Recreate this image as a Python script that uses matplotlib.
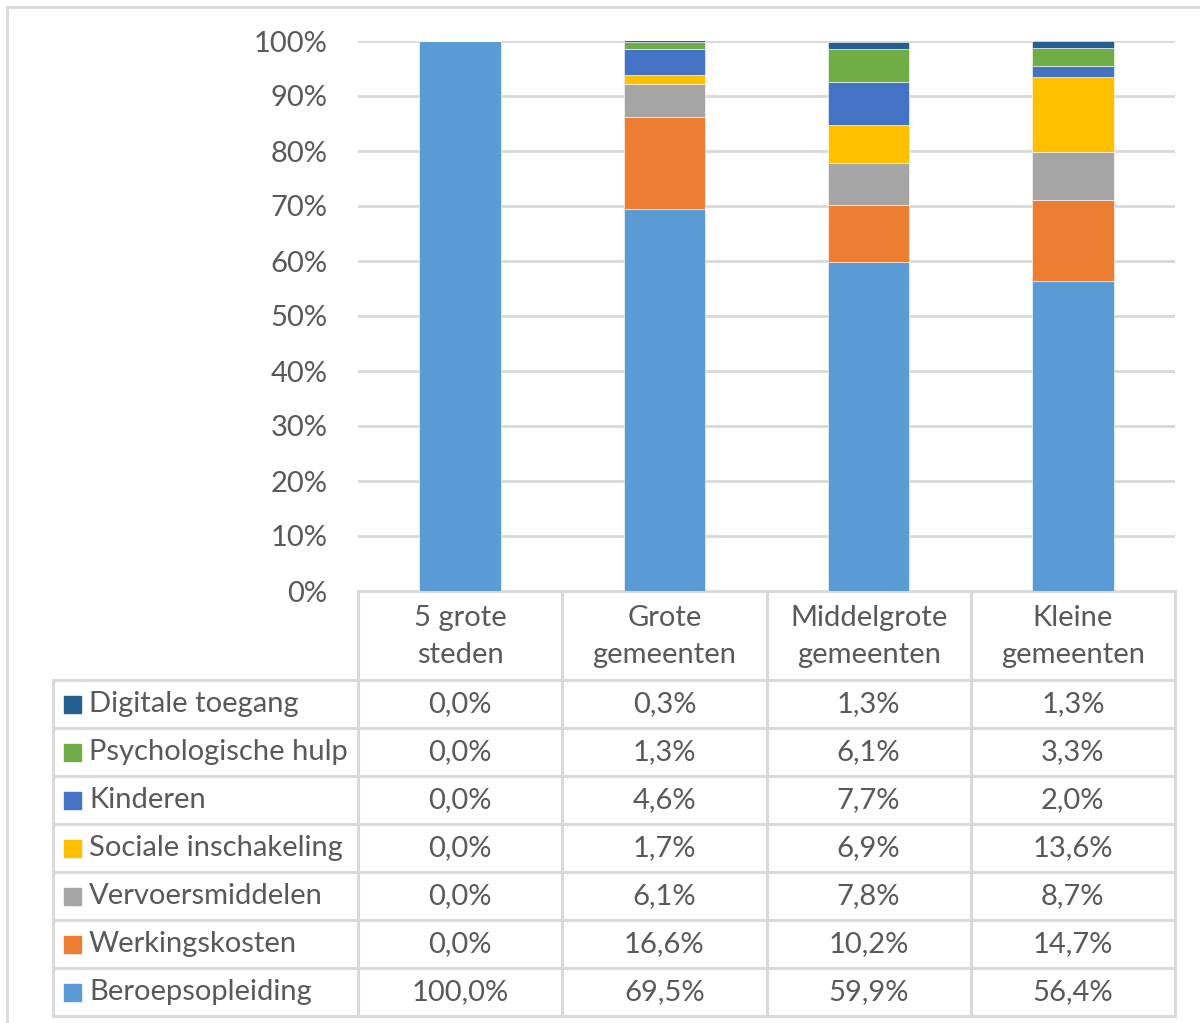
import numpy as np
import matplotlib.pyplot as plt

plt.rcParams['font.family'] = ['Lato', 'DejaVu Sans']

categories = ["5 grote\nsteden", "Grote\ngemeenten", "Middelgrote\ngemeenten", "Kleine\ngemeenten"]
series = ["Beroepsopleiding", "Werkingskosten", "Vervoersmiddelen", "Sociale inschakeling",
          "Kinderen", "Psychologische hulp", "Digitale toegang"]
beroepsopleiding = [100.0, 69.5, 59.9, 56.4]
werkingskosten = [0.0, 16.6, 10.2, 14.7]
vervoersmiddelen = [0.0, 6.1, 7.8, 8.7]
sociale = [0.0, 1.7, 6.9, 13.6]
kinderen = [0.0, 4.6, 7.7, 2.0]
psych = [0.0, 1.3, 6.1, 3.3]
digitaal = [0.0, 0.3, 1.3, 1.3]
values = [beroepsopleiding, werkingskosten, vervoersmiddelen, sociale, kinderen, psych, digitaal]
colors = ["#5B9BD5", "#ED7D31", "#A5A5A5", "#FFC000", "#4472C4", "#70AD47", "#255E91"]

W, H = 1200, 1023
text_c = "#595959"
grid_c = "#D9D9D9"
fs = 21

fig = plt.figure(figsize=(W / 100, H / 100), dpi=100)

# overlay in pixel coordinates for frame and table
ov = fig.add_axes([0, 0, 1, 1])
ov.set_xlim(0, W)
ov.set_ylim(H, 0)
ov.axis("off")

# plot area
x0, x1, ytop, ybot = 358, 1175, 41, 591
ax = fig.add_axes([x0 / W, 1 - ybot / H, (x1 - x0) / W, (ybot - ytop) / H])
x = np.arange(len(categories))
bottom = np.zeros(len(categories))
for vals, col in zip(values, colors):
    vals = np.array(vals)
    ax.bar(x, vals, 0.4, bottom=bottom, color=col, edgecolor="white", linewidth=0.4, zorder=3)
    bottom += vals
ax.set_xlim(-0.5, len(categories) - 0.5)
ax.set_ylim(0, 100)
ax.set_yticks(np.arange(0, 101, 10))
ax.set_yticklabels([f"{v}%" for v in range(0, 101, 10)], fontsize=fs, color=text_c)
ax.tick_params(axis="y", length=0, pad=22)
ax.set_xticks([])
ax.grid(axis="y", color=grid_c, linewidth=2, zorder=0)
for s in ax.spines.values():
    s.set_visible(False)

# outer frame
ov.plot([7, 7], [7, H], color=grid_c, lw=2)
ov.plot([7, W], [7, 7], color=grid_c, lw=2)

# table
col_w = (x1 - x0) / len(categories)
col_edges = [x0 + i * col_w for i in range(len(categories) + 1)]
head_top, head_bot = 591, 680
row_h = 48
n_rows = len(series)
tab_bot = head_bot + n_rows * row_h
tab_left = 53
lw_t = 2.2
ov.plot([x0, x1], [head_top, head_top], color=grid_c, lw=lw_t)
for cx in col_edges:
    ov.plot([cx, cx], [head_top, tab_bot], color=grid_c, lw=lw_t)
ov.plot([tab_left, tab_left], [head_bot, tab_bot], color=grid_c, lw=lw_t)
for r in range(n_rows + 1):
    yy = head_bot + r * row_h
    ov.plot([tab_left, x1], [yy, yy], color=grid_c, lw=lw_t)

for i, cat in enumerate(categories):
    ov.text(x0 + (i + 0.5) * col_w, (head_top + head_bot) / 2 + 1, cat, ha="center", va="center",
            fontsize=fs, color=text_c, linespacing=1.5)

for r in range(n_rows):
    si = n_rows - 1 - r
    yc = head_bot + (r + 0.5) * row_h
    ov.add_patch(plt.Rectangle((64, yc - 8.5), 17, 17, color=colors[si]))
    ov.text(89, yc, series[si], ha="left", va="center", fontsize=fs, color=text_c)
    for i in range(len(categories)):
        ov.text(x0 + (i + 0.5) * col_w, yc, f"{values[si][i]:.1f}%".replace(".", ","),
                ha="center", va="center", fontsize=fs, color=text_c)

fig.savefig("out.png", dpi=100)
